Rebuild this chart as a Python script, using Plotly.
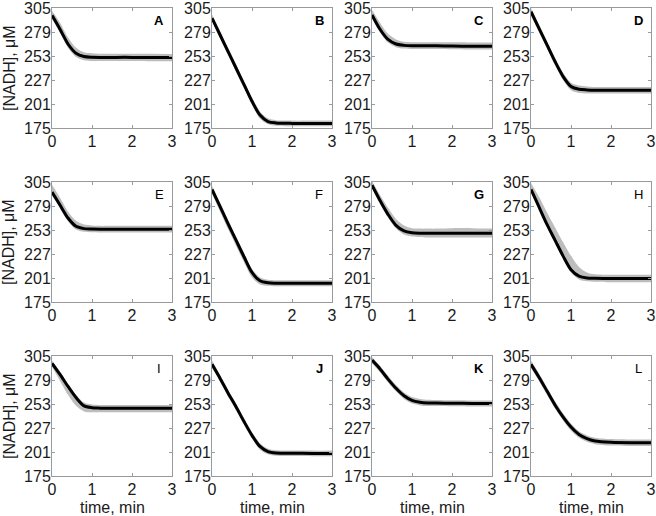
import plotly.graph_objects as go

# ---- data ----
time_min = [0, 0.2, 0.4, 0.6, 0.8, 1.0, 1.2, 1.4, 1.6, 2.0, 2.5, 3.0]
panel_labels = ["A", "B", "C", "D", "E", "F", "G", "H", "I", "J", "K", "L"]
label_bold = [True, True, True, True, False, False, True, False, False, True, True, False]

fit_A = [297, 282, 266, 256, 252.5, 251.7, 251.5, 251.5, 251.5, 251.5, 251.3, 251.3]
fit_B = [294, 276, 258, 240, 222, 204, 189, 182, 180.5, 180, 180, 180]
fit_C = [297.5, 282, 271, 266, 264.5, 264, 264, 264, 264, 263.8, 263.6, 263.5]
fit_D = [301, 283, 265, 247, 231, 220, 217, 216.3, 216, 216, 216, 216]
fit_E = [294, 280, 266, 257, 254.5, 254, 253.8, 253.8, 253.8, 253.8, 253.8, 253.8]
fit_F = [297, 278.6, 260, 242, 224, 207, 198, 195.8, 195.3, 195.2, 195.2, 195.2]
fit_G = [301.5, 285, 270, 258, 252, 250, 249.5, 249.4, 249.4, 249.4, 249.4, 249.4]
fit_H = [297, 278, 259, 242, 225, 210, 203, 201, 200.7, 200.5, 200.5, 200.5]
fit_I = [297, 285, 272, 260, 251, 249, 248.5, 248.3, 248.3, 248.3, 248.3, 248.3]
fit_J = [296, 281, 265, 250, 234, 219, 207, 201.5, 200, 199.6, 199.5, 199.5]
fit_K = [300.5, 291, 280, 270, 262, 257, 255, 254.2, 254, 253.8, 253.6, 253.5]
fit_L = [296, 282, 267, 252, 239, 228, 220, 215.5, 213, 211.5, 211, 211]

upper_A = [302, 289, 273, 262, 257, 256, 255.5, 255.5, 255.5, 255.5, 255.5, 255.3]
upper_B = [298, 280, 262, 244, 226, 208, 193, 185.5, 183.5, 183, 183, 183]
upper_C = [303, 289, 277, 271, 268.5, 268, 268, 268, 268, 267.8, 267.6, 267.5]
upper_D = [305, 287, 269, 251, 235, 224, 221, 220, 219.5, 219.5, 219.5, 219.5]
upper_E = [302, 288, 273, 263, 259, 258, 257.5, 257.5, 257.5, 257.5, 257.5, 257.5]
upper_F = [301, 282.5, 264, 246, 228, 211, 201.5, 199, 198.5, 198.5, 198.5, 198.5]
upper_G = [306, 291, 277, 265, 258, 255, 254.5, 254.5, 254.5, 255, 255, 254.5]
upper_H = [304, 289, 272, 256, 240, 225, 213, 207, 205, 204.5, 204.5, 204.5]
upper_I = [300, 288, 275, 263, 254.5, 252.5, 252, 252, 252, 252, 252, 252]
upper_J = [300, 284.5, 268.5, 253.5, 237.5, 222.5, 210.5, 204.5, 203, 202.6, 202.5, 202.5]
upper_K = [304, 294.5, 283.5, 273.5, 265.5, 260.5, 258.5, 257.5, 257.3, 257, 256.8, 256.7]
upper_L = [300, 286, 271, 256, 243, 232, 223.5, 219, 216.5, 215, 214.5, 214.5]

lower_A = [293, 278, 262, 252, 248.5, 247.5, 247.5, 247.5, 247.5, 247.5, 247.3, 247.3]
lower_B = [291, 272, 254, 236, 218, 200, 185, 179, 177.5, 177, 177, 177]
lower_C = [294, 278.5, 267.5, 262.5, 261, 260.5, 260.5, 260.5, 260.5, 260.3, 260.1, 260]
lower_D = [297, 279, 261, 243, 227, 216, 213, 212.5, 212.5, 212.5, 212.5, 212.5]
lower_E = [291, 276.5, 262.5, 253.5, 251, 250.5, 250.3, 250.3, 250.3, 250.3, 250.3, 250.3]
lower_F = [292, 273, 254, 236, 218, 201.5, 194, 192.5, 192, 192, 192, 192]
lower_G = [298, 281.5, 266.5, 254.5, 248, 246, 245.5, 245, 245, 245, 245, 245]
lower_H = [294, 275, 256, 239, 222, 207, 199.5, 197.5, 197, 196.5, 196.5, 196.5]
lower_I = [293, 278, 263, 251, 245, 244, 244, 244, 244, 244, 244, 244]
lower_J = [292, 277.5, 261.5, 246.5, 230.5, 215.5, 203.5, 198.5, 197, 196.6, 196.5, 196.5]
lower_K = [297, 287.5, 276.5, 266.5, 258.5, 253.5, 251.5, 250.8, 250.7, 250.5, 250.3, 250.2]
lower_L = [292, 278, 263, 248, 235, 224, 216.5, 212, 209.5, 208, 207.5, 207.5]

y_ticks = [175, 201, 227, 253, 279, 305]
x_ticks = [0, 1, 2, 3]

fits = [fit_A, fit_B, fit_C, fit_D, fit_E, fit_F, fit_G, fit_H, fit_I, fit_J, fit_K, fit_L]
uppers = [upper_A, upper_B, upper_C, upper_D, upper_E, upper_F, upper_G, upper_H, upper_I, upper_J, upper_K, upper_L]
lowers = [lower_A, lower_B, lower_C, lower_D, lower_E, lower_F, lower_G, lower_H, lower_I, lower_J, lower_K, lower_L]

# ---- layout geometry (pixels) ----
W, H = 656, 516
col_left = [52, 212, 372, 531]
panel_w = 120
row_top = [8, 182, 356]
panel_h = 120

FONT = "Arial, Liberation Sans, Helvetica, sans-serif"
AXCOL = "#9a9a9a"
TXT = "#1a1a1a"
FS = 16

fig = go.Figure()
layout = dict(
    width=W, height=H, margin=dict(l=0, r=0, t=0, b=0, pad=0, autoexpand=False),
    paper_bgcolor="white", plot_bgcolor="white", showlegend=False,
    font=dict(family=FONT, size=FS, color=TXT),
)
annotations = []

for i in range(12):
    r, c = divmod(i, 4)
    n = i + 1
    xa = "x" if n == 1 else f"x{n}"
    ya = "y" if n == 1 else f"y{n}"
    x0 = col_left[c] / W
    x1 = (col_left[c] + panel_w) / W
    y1 = 1 - row_top[r] / H
    y0 = 1 - (row_top[r] + panel_h) / H
    common = dict(showline=True, mirror="allticks", linecolor=AXCOL, linewidth=1,
                  ticks="inside", ticklen=3, tickcolor=AXCOL, showgrid=False,
                  zeroline=False, automargin=False, ticklabeloverflow="allow",
                  tickfont=dict(family=FONT, size=FS, color=TXT))
    layout[f"xaxis{n}"] = dict(domain=[x0, x1], anchor=ya, range=[0, 3],
                               tickvals=x_ticks, ticktext=[str(v) for v in x_ticks],
                               ticklabelstandoff=-1, **common)
    layout[f"yaxis{n}"] = dict(domain=[y0, y1], anchor=xa, range=[175, 305],
                               tickvals=y_ticks, ticktext=[str(v) for v in y_ticks],
                               ticklabelstandoff=-3, **common)

    fig.add_trace(go.Scatter(x=time_min, y=lowers[i], mode="lines", xaxis=xa, yaxis=ya,
                             line=dict(width=0, shape="spline", smoothing=0.8, color="#bdbdbd"),
                             hoverinfo="skip"))
    fig.add_trace(go.Scatter(x=time_min, y=uppers[i], mode="lines", xaxis=xa, yaxis=ya,
                             fill="tonexty", fillcolor="#bdbdbd",
                             line=dict(width=0, shape="spline", smoothing=0.8, color="#bdbdbd"),
                             hoverinfo="skip"))
    fig.add_trace(go.Scatter(x=time_min, y=fits[i], mode="lines", xaxis=xa, yaxis=ya,
                             line=dict(width=3, shape="spline", smoothing=0.8, color="#000000")))

    lab = panel_labels[i]
    annotations.append(dict(x=2.68, y=291, xref=xa, yref=ya, showarrow=False,
                            text=f"<b>{lab}</b>" if label_bold[i] else lab,
                            font=dict(family=FONT, size=13, color="#000000"),
                            xanchor="center", yanchor="middle"))

for r in range(3):
    yc = 1 - (row_top[r] + panel_h / 2) / H
    annotations.append(dict(x=9 / W, y=yc, xref="paper", yref="paper", showarrow=False,
                            text="[NADH], μM", textangle=-90,
                            font=dict(family=FONT, size=FS, color=TXT),
                            xanchor="center", yanchor="middle"))
for c in range(4):
    xc = (col_left[c] + panel_w / 2) / W
    annotations.append(dict(x=xc, y=1 - 507 / H, xref="paper", yref="paper", showarrow=False,
                            text="time, min",
                            font=dict(family=FONT, size=FS, color=TXT),
                            xanchor="center", yanchor="middle"))

layout["annotations"] = annotations
fig.update_layout(**layout)
fig.write_html("out.html", config={"displayModeBar": False},
               post_script="document.body.style.margin='0';document.body.style.overflow='hidden';")
